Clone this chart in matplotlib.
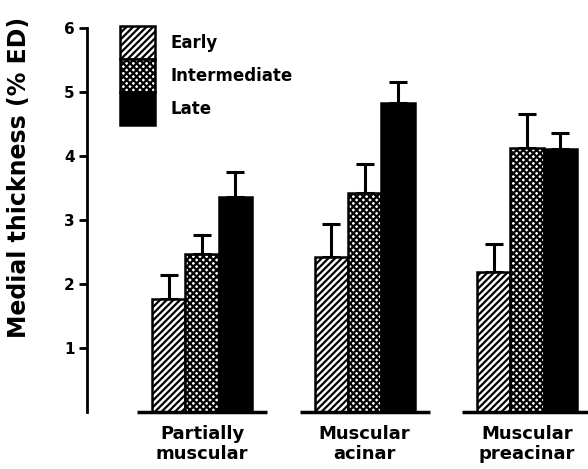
import numpy as np
import matplotlib.pyplot as plt
from matplotlib.patches import Patch

plt.rcParams['font.family'] = ['DejaVu Sans']
plt.rcParams['font.weight'] = 'bold'
plt.rcParams['hatch.linewidth'] = 1.6

groups = ["Partially\nmuscular", "Muscular\nacinar", "Muscular\npreacinar"]
series = ["Early", "Intermediate", "Late"]
early = [1.77, 2.42, 2.19]
early_err = [0.37, 0.52, 0.44]
intermediate = [2.47, 3.42, 4.13]
intermediate_err = [0.30, 0.46, 0.53]
late = [3.36, 4.83, 4.11]
late_err = [0.39, 0.33, 0.25]

values = [early, intermediate, late]
errors = [early_err, intermediate_err, late_err]
hatches = ["/////", "xxxxx", None]
faces = ["white", "white", "black"]

fig = plt.figure(figsize=(5.88, 4.69), dpi=100)
ax = fig.add_axes([0.148, 0.1215, 0.852, 0.8256])

x = np.arange(len(groups))
width = 0.205

for i, s in enumerate(series):
    pos = x + (i - 1) * width
    ax.bar(pos, values[i], width, color=faces[i], edgecolor="black",
           linewidth=1.8, hatch=hatches[i], label=s, zorder=2)
    ax.errorbar(pos, values[i], yerr=[np.zeros(len(groups)), errors[i]],
                fmt="none", ecolor="black", elinewidth=2.2, capsize=6.5,
                capthick=2.2, zorder=1)

# short baseline under each group
ax.hlines(np.zeros(len(groups)), x - 0.4, x + 0.4, color="black",
          linewidth=2.5, zorder=3, clip_on=False)

ax.set_xlim(-0.708, 2.375)
ax.set_ylim(0, 6.05)
ax.set_yticks([1, 2, 3, 4, 5, 6])
ax.set_xticks(x)
ax.set_xticklabels(groups, fontsize=13, fontweight="bold", linespacing=1.15)
ax.tick_params(axis="x", length=0, pad=9)
ax.tick_params(axis="y", direction="out", length=6, width=2, labelsize=11,
               pad=3)

for side in ["top", "right", "bottom"]:
    ax.spines[side].set_visible(False)
ax.spines["left"].set_linewidth(2)
ax.spines["left"].set_bounds(0, 6)

ax.set_ylabel("Medial thickness (% ED)", fontsize=17, fontweight="bold")
ax.yaxis.set_label_coords(-0.112, 0.605)

handles = [Patch(facecolor=faces[i], edgecolor="black", hatch=hatches[i],
                 linewidth=1.8, label=series[i]) for i in range(3)]
ax.legend(handles=handles, loc="upper left",
          bbox_to_anchor=(120 / 588, 1 - 26 / 469),
          bbox_transform=fig.transFigure, frameon=False, fontsize=12,
          handlelength=2.1, handleheight=2.67, labelspacing=0,
          handletextpad=0.9, borderpad=0, borderaxespad=0)

plt.savefig("out.png", dpi=100)
